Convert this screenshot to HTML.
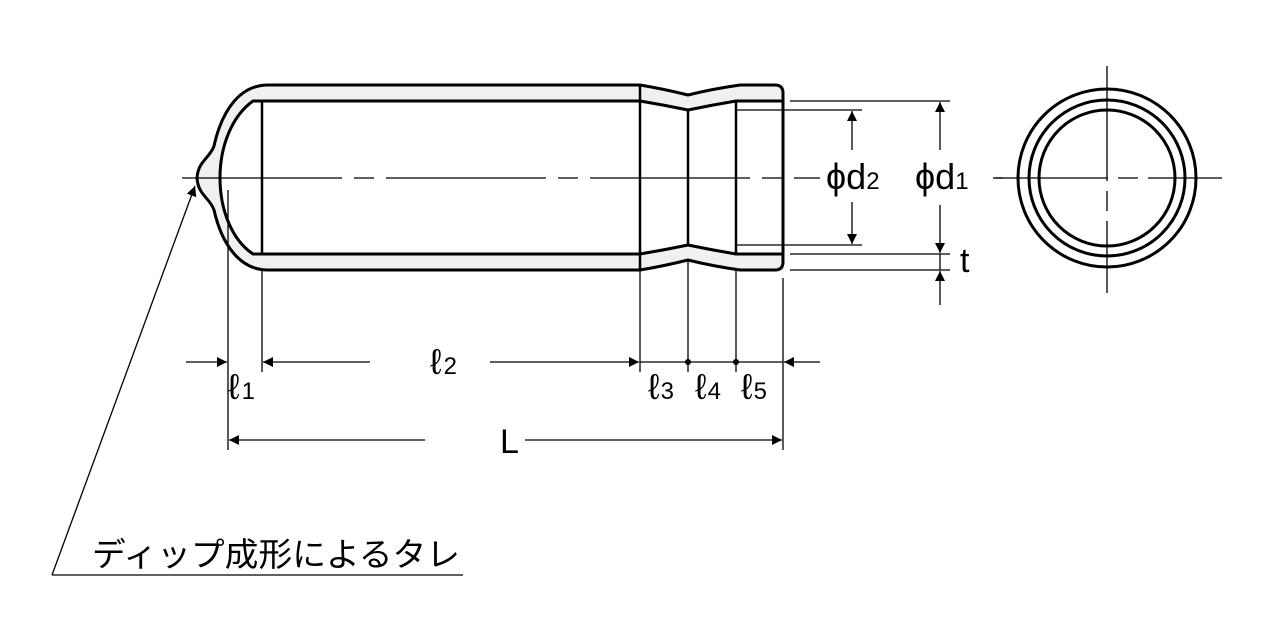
<!DOCTYPE html>
<html><head><meta charset="utf-8"><style>
html,body{margin:0;padding:0;background:#fff}
svg{display:block}
text{font-family:"Liberation Sans","DejaVu Sans","Noto Sans CJK JP",sans-serif;fill:#000}
</style></head><body>
<svg width="1261" height="618" viewBox="0 0 1261 618" xmlns="http://www.w3.org/2000/svg">
<defs>
<marker id="a" viewBox="0 0 10 10" refX="10" refY="5" markerWidth="16" markerHeight="10" markerUnits="userSpaceOnUse" orient="auto-start-reverse"><path d="M0,0 L10,5 L0,10 z" fill="#000"/></marker>
</defs>
<path d="M268,85 L640,85 Q664,89 688,95 Q712,89 740,85 L775,85 Q783,85 783,93 L783,262 Q783,270 775,270 L740,270 Q712,266 688,260 Q664,266 640,270 L268,270 C240,270 222,245 214,210 C210,198 198,195 197,178 C198,161 210,158 214,146 C222,110 240,85 268,85 Z" fill="#f0f0f0" stroke="#000" stroke-width="3"/>
<path d="M253,101 L640,101 Q664,105 688,110 Q712,105 736,101 L783,101 L783,254 L736,254 Q712,250 688,245 Q664,250 640,254 L253,254 C232,240 220,210 220,178 C220,146 232,116 253,101 Z" fill="#fff" stroke="#000" stroke-width="3"/>
<g stroke="#000" stroke-width="2.5" fill="none">
<line x1="262" y1="102" x2="262" y2="253"/>
<line x1="640" y1="86" x2="640" y2="269"/>
<line x1="688" y1="110" x2="688" y2="245"/>
<line x1="736" y1="101" x2="736" y2="254"/>
</g>
<line x1="182" y1="178" x2="820" y2="178" stroke="#000" stroke-width="1.3" stroke-dasharray="160,12,20,12"/>
<g stroke="#000" stroke-width="1.3" fill="none">
<line x1="790" y1="101" x2="950" y2="101"/>
<line x1="736" y1="110" x2="862" y2="110"/>
<line x1="736" y1="245" x2="862" y2="245"/>
<line x1="790" y1="254" x2="950" y2="254"/>
<line x1="790" y1="270" x2="950" y2="270"/>
<line x1="852" y1="150" x2="852" y2="111" marker-end="url(#a)"/>
<line x1="852" y1="202" x2="852" y2="244" marker-end="url(#a)"/>
<line x1="940" y1="150" x2="940" y2="102" marker-end="url(#a)"/>
<line x1="940" y1="205" x2="940" y2="253" marker-end="url(#a)"/>
<line x1="940" y1="305" x2="940" y2="271" marker-end="url(#a)"/>
<line x1="940" y1="254" x2="940" y2="270"/>
<line x1="995" y1="178" x2="1003" y2="178"/>
<line x1="228" y1="190" x2="228" y2="450"/>
<line x1="262" y1="270" x2="262" y2="372"/>
<line x1="640" y1="270" x2="640" y2="372"/>
<line x1="688" y1="260" x2="688" y2="372"/>
<line x1="736" y1="270" x2="736" y2="372"/>
<line x1="783" y1="278" x2="783" y2="450"/>
<line x1="186" y1="362" x2="227" y2="362" marker-end="url(#a)"/>
<line x1="370" y1="362" x2="263" y2="362" marker-end="url(#a)"/>
<line x1="490" y1="362" x2="639" y2="362" marker-end="url(#a)"/>
<line x1="640" y1="362" x2="783" y2="362"/>
<line x1="820" y1="362" x2="784" y2="362" marker-end="url(#a)"/>
<line x1="425" y1="440" x2="229" y2="440" marker-end="url(#a)"/>
<line x1="525" y1="440" x2="782" y2="440" marker-end="url(#a)"/>
<line x1="52" y1="575" x2="195" y2="186" marker-end="url(#a)"/>
<line x1="52" y1="575" x2="463" y2="575"/>
</g>
<circle cx="688" cy="362" r="3" fill="#000"/>
<circle cx="736" cy="362" r="3" fill="#000"/>
<g stroke="#000" stroke-width="3" fill="none">
<circle cx="1107" cy="178" r="89"/>
<circle cx="1107" cy="178" r="78"/>
<circle cx="1107" cy="178" r="68"/>
</g>
<line x1="993" y1="178" x2="1222" y2="178" stroke="#000" stroke-width="1.3" stroke-dasharray="115,10,20,10,90"/>
<line x1="1107" y1="66" x2="1107" y2="293" stroke="#000" stroke-width="1.3" stroke-dasharray="115,10,20,10,90"/>
<text x="826" y="189" font-size="36">ϕd<tspan font-size="24">2</tspan></text>
<text x="915" y="189" font-size="36">ϕd<tspan font-size="24">1</tspan></text>
<text x="960" y="272" font-size="34">t</text>
<text x="430" y="374" font-size="36">ℓ<tspan font-size="24" dx="2">2</tspan></text>
<text x="228" y="399" font-size="36">ℓ<tspan font-size="24" dx="2">1</tspan></text>
<text x="648" y="399" font-size="36">ℓ<tspan font-size="24" dx="1">3</tspan></text>
<text x="695" y="399" font-size="36">ℓ<tspan font-size="24" dx="1">4</tspan></text>
<text x="741" y="399" font-size="36">ℓ<tspan font-size="24" dx="1">5</tspan></text>
<text x="500" y="453" font-size="34">L</text>
<text x="92" y="566" font-size="33" textLength="368" lengthAdjust="spacingAndGlyphs">ディップ成形によるタレ</text>
</svg>
</body></html>
